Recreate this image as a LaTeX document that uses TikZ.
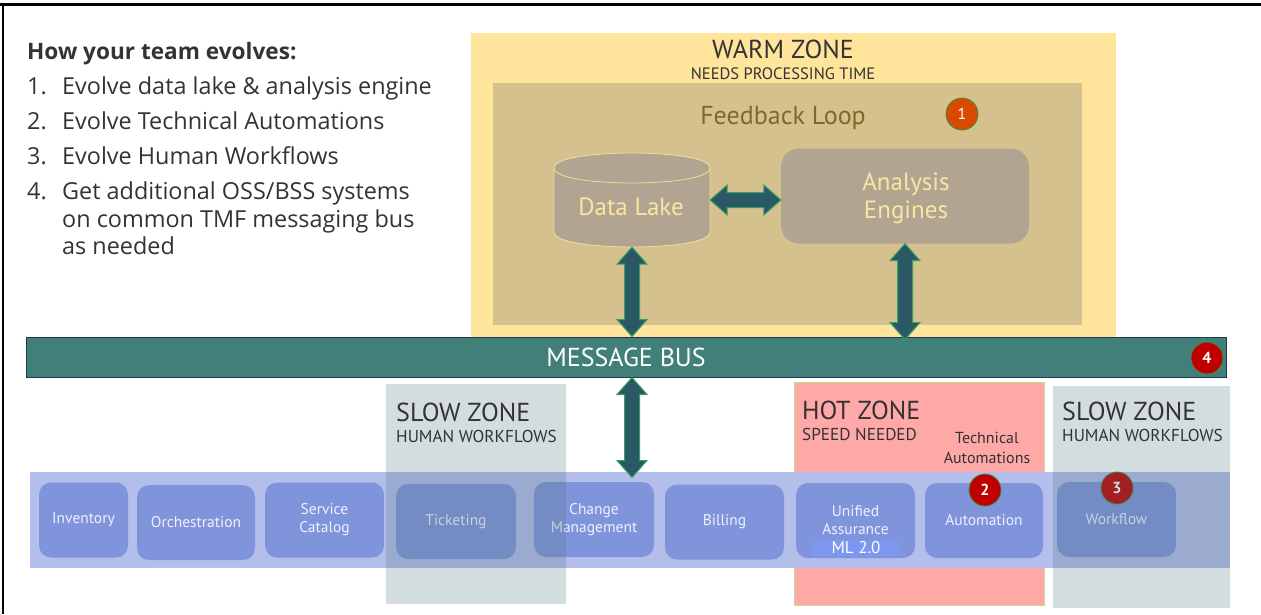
\documentclass[tikz,border=0pt]{standalone}
\usepackage{fontspec}
\setmainfont{Open Sans}
\newfontfamily\diagfont{PT Sans}
\usetikzlibrary{calc}
\definecolor{ink}{HTML}{333333}
\definecolor{warmzone}{HTML}{FFE49B}
\definecolor{feedback}{HTML}{D4C18E}
\definecolor{loopink}{HTML}{7D6A2A}
\definecolor{lakefill}{HTML}{B1A490}
\definecolor{lakeline}{HTML}{F2DC96}
\definecolor{lakeink}{HTML}{FAE6A2}
\definecolor{arrowfill}{HTML}{2B5865}
\definecolor{arrowline}{HTML}{33A066}
\definecolor{busfill}{HTML}{418079}
\definecolor{busline}{HTML}{1E3A50}
\definecolor{badgered}{HTML}{C00000}
\definecolor{badgeorange}{HTML}{D84A00}
\definecolor{badgeline}{HTML}{3C8C3C}
\definecolor{hotzone}{HTML}{FFA8A8}
\definecolor{hotline}{HTML}{C8DC96}
\definecolor{slowzone}{HTML}{567884}
\definecolor{bandfill}{HTML}{B4BEEB}
\definecolor{boxfill}{HTML}{7F94DB}
\definecolor{mlfill}{HTML}{7D96F0}
\newcommand\fsz[2]{\fontsize{#1}{#2}\selectfont}
% fat double arrow from #1 to #2
\newcommand\fatarrow[2]{%
  \filldraw[fatarrow] (#1)
    -- ($(#1)!17pt!(#2)!15pt!90:(#2)$) -- ($(#1)!17pt!(#2)!7.5pt!90:(#2)$)
    -- ($(#2)!17pt!(#1)!7.5pt!-90:(#1)$) -- ($(#2)!17pt!(#1)!15pt!-90:(#1)$)
    -- (#2)
    -- ($(#2)!17pt!(#1)!15pt!90:(#1)$) -- ($(#2)!17pt!(#1)!7.5pt!90:(#1)$)
    -- ($(#1)!17pt!(#2)!7.5pt!-90:(#2)$) -- ($(#1)!17pt!(#2)!15pt!-90:(#2)$)
    -- cycle;}
\tikzset{listtext/.style={anchor=base west, text=ink, inner sep=0pt, font=\fsz{23.4}{27}},
 zonetitle/.style={anchor=base west, text=ink, inner sep=0pt, font=\diagfont\fsz{26}{30}},
 zonesub/.style={anchor=base west, text=ink, inner sep=0pt, font=\diagfont\fsz{17.2}{19}},
 sysbox/.style={rectangle, rounded corners=12pt, fill=boxfill, text=white!94!blue,
   align=center, font=\diagfont\fsz{15.5}{18}, inner sep=0pt},
 badge/.style={circle, draw=badgeline, line width=0.8pt, minimum size=32pt, inner sep=0pt,
   text=white, font=\diagfont\fsz{16}{16}},
 fatarrow/.style={fill=arrowfill, draw=arrowline, line width=1pt, line join=miter},
 }

\begin{document}
\begin{tikzpicture}[x=1pt, y=-1pt]
\useasboundingbox (0,0) rectangle (1261,614);
% frame
\draw[line width=3pt] (0,4) -- (1261,4);
\draw[line width=2pt] (3,4) -- (3,614);

% how the team evolves
\node[listtext, font=\bfseries\fsz{22.6}{26}] (head) at (27,59) {How your team evolves:};
\foreach \k/\txt/\yy in {1/{Evolve data lake \& analysis engine}/94,
    2/{Evolve Technical Automations}/129, 3/{Evolve Human Workflows}/164} {
  \node[listtext] (n\k) at (27,\yy) {\k.};
  \node[listtext] (t\k) at (62,\yy) {\txt};
}
\node[listtext] (n4) at (27,199) {4.};
\node[listtext] (t4a) at (62,199) {Get additional OSS/BSS systems};
\node[listtext] (t4b) at (62,227) {on common TMF messaging bus};
\node[listtext] (t4c) at (62,254) {as needed};

% warm zone
\fill[warmzone] (471,33) rectangle (1116,337);
\node[anchor=base, text=ink, font=\diagfont\fsz{26}{30}] (warm) at (783,58) {WARM ZONE};
\node[anchor=base, text=ink, font=\diagfont\fsz{16.5}{19}] (warmsub) at (783,79) {NEEDS PROCESSING TIME};
\fill[feedback] (493,83) rectangle (1082,325);
\node[anchor=base, text=loopink, font=\diagfont\fsz{26}{30}] (loop) at (783,124) {Feedback Loop};
\node[badge, fill=badgeorange] (b1) at (962,114) {1};

% data lake
\filldraw[fill=lakefill, draw=lakeline, line width=0.8pt] (554,168) -- (554,232)
  .. controls (554,252) and (710,252) .. (710,232) -- (710,168)
  .. controls (710,148) and (554,148) .. (554,168) -- cycle;
\draw[lakeline, line width=0.8pt] (554,168) .. controls (554,188) and (710,188) .. (710,168);
\node[minimum width=156pt, minimum height=94pt, inner sep=0pt] (dl) at (632,200) {};
\node[text=lakeink, font=\diagfont\fsz{25}{28}] (dltext) at (631,207) {Data Lake};
\node[rectangle, rounded corners=18pt, fill=lakefill, minimum width=248pt, minimum height=95pt,
  inner sep=0pt] (ae) at (905,196) {};
\node[text=lakeink, align=center, font=\diagfont\fsz{25}{28}] (aetext) at (906,198) {Analysis\\Engines};

% message bus
\node[rectangle, fill=busfill, draw=busline, line width=1pt, minimum width=1200pt,
  minimum height=40pt, text=white, font=\diagfont\fsz{26}{28}] (bus) at (626,357) {MESSAGE BUS};
\node[badge, fill=badgered, font=\diagfont\bfseries\fsz{16}{16}] (b4) at (1207,358) {4};

% hot zone
\filldraw[fill=hotzone, draw=hotline, line width=1pt] (794,382) rectangle (1044,605);
\node[zonetitle] (hot) at (802,419) {HOT ZONE};
\node[zonesub] (hotsub) at (802,440) {SPEED NEEDED};
\node[align=center, text=ink, font=\diagfont\fsz{16}{20}] (tech) at (987,448) {Technical\\Automations};

% systems
\node[minimum width=1200pt, minimum height=96pt, fill=bandfill, inner sep=0pt] (band) at (630,520) {};
\foreach \nm/\cx/\cy/\w/\txt in {inv/83.5/520/89/Inventory, orch/196/522.5/118/Orchestration,
    cat/324.5/520/119/{Service\\Catalog}, tick/456/521.5/120/Ticketing,
    chg/594/519.5/120/{Change\\Management}, bill/724.5/522/119/Billing,
    ua/855.5/520.5/119/{Unified\\Assurance}, auto/984/520.5/118/Automation,
    wf/1116.5/519.5/119/Workflow} {
  \node[sysbox, minimum width=\w pt, minimum height=75pt] (\nm) at (\cx,\cy) {\txt};
}
\node[fill=mlfill, minimum width=88pt, minimum height=17pt, inner sep=0pt, text=white,
  font=\diagfont\fsz{17}{18}] (ml) at (856,548) {ML 2.0};
\node[badge, fill=badgered, font=\diagfont\bfseries\fsz{16}{16}] (b2) at (985,490) {2};
\node[badge, fill=badgered, font=\diagfont\bfseries\fsz{16}{16}] (b3) at (1117,488) {3};

% slow zones
\fill[slowzone, fill opacity=0.26] (386,384) rectangle (566,604);
\fill[slowzone, fill opacity=0.26] (1053,386) rectangle (1230,608);
\node[zonetitle] (slow1) at (396,421) {SLOW ZONE};
\node[zonesub] (slow1sub) at (396,442) {HUMAN WORKFLOWS};
\node[zonetitle] (slow2) at (1062,420) {SLOW ZONE};
\node[zonesub] (slow2sub) at (1062,441) {HUMAN WORKFLOWS};

% arrows
\coordinate (dlbus) at (dl.south |- bus.north);
\coordinate (aebus) at ($(ae.south |- bus.north)+(0,3)$);
\coordinate (aeleft) at (dl.east -| ae.west);
\coordinate (busdrop) at ($(bus.south -| dl.south)+(0,100)$);
\fatarrow{dl.east}{aeleft}
\fatarrow{dl.south}{dlbus}
\fatarrow{ae.south}{aebus}
\fatarrow{bus.south -| dl.south}{busdrop}
\end{tikzpicture}
\end{document}
